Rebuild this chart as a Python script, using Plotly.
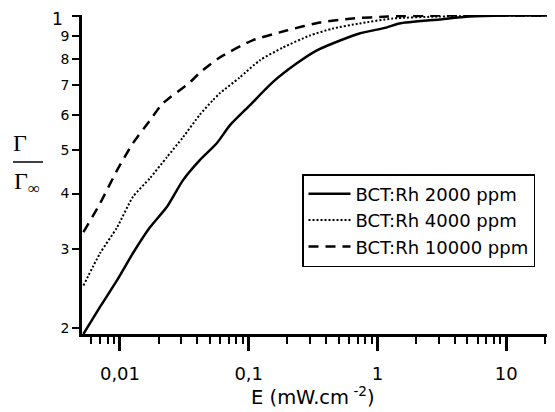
import plotly.graph_objects as go
import math

# Data
E_2000 = [0.0052, 0.0070, 0.0095, 0.0126, 0.0171, 0.0231, 0.0308, 0.0417, 0.0565, 0.0713,
          0.102, 0.153, 0.235, 0.336, 0.448, 0.724, 1.17, 1.48, 3.03, 5.16, 10, 22.7]
G_2000 = [0.194, 0.223, 0.256, 0.294, 0.336, 0.373, 0.428, 0.475, 0.518, 0.568,
          0.630, 0.709, 0.781, 0.835, 0.866, 0.912, 0.940, 0.960, 0.980, 0.995, 1.0, 1.0]

E_4000 = [0.0052, 0.0070, 0.0095, 0.0126, 0.0171, 0.0231, 0.0308, 0.0417, 0.0525, 0.0596,
          0.0851, 0.122, 0.184, 0.297, 0.448, 0.724, 1.31, 3.0, 10, 22.7]
G_4000 = [0.249, 0.294, 0.336, 0.393, 0.433, 0.482, 0.534, 0.600, 0.646, 0.670,
          0.727, 0.794, 0.848, 0.902, 0.935, 0.960, 0.985, 0.995, 1.0, 1.0]

E_10000 = [0.0052, 0.0070, 0.0095, 0.0126, 0.0171, 0.0215, 0.0349, 0.0417, 0.0596, 0.107,
           0.197, 0.356, 0.64, 1.2, 3.0, 10, 22.7]
G_10000 = [0.328, 0.380, 0.451, 0.518, 0.583, 0.636, 0.709, 0.745, 0.806, 0.880,
           0.926, 0.965, 0.985, 0.995, 1.0, 1.0, 1.0]

series_names = ["BCT:Rh 2000 ppm", "BCT:Rh 4000 ppm", "BCT:Rh 10000 ppm"]

x_major_vals = [0.01, 0.1, 1, 10]
x_major_text = ["0,01", "0,1", "1", "10"]
x_minor_vals = [m * 10 ** d for d in range(-3, 2) for m in range(2, 10)]

y_tick_vals = [0.2, 0.3, 0.4, 0.5, 0.6, 0.7, 0.8, 0.9, 1.0]
y_tick_text = ["2", "3", "4", "5", "6", "7", "8", "9", ""]
y_top_label = "1"   # the top tick label, drawn larger in the reference

SANS = "DejaVu Sans, Verdana, sans-serif"
SERIF = "Liberation Serif, Times New Roman, serif"

# The page body has an 8px margin; the figure is sized to fit the window.
OFF = 8
W, H = 555 - OFF, 412 - OFF
# plot area in page pixels: x 82..553, y 15..334
L = 82 - OFF
T = 15 - OFF
R = W - (553 - OFF)
B = H - (334 - OFF)
PW, PH = W - L - R, H - T - B


def px_x(p):
    return (p - OFF - L) / PW


def px_y(p):
    return (H - B - (p - OFF)) / PH


fig = go.Figure()
fig.add_trace(go.Scatter(x=E_2000, y=G_2000, mode="lines", name=series_names[0],
                         line=dict(color="black", width=2.5, shape="spline", smoothing=0.6)))
fig.add_trace(go.Scatter(x=E_4000, y=G_4000, mode="lines", name=series_names[1],
                         line=dict(color="black", width=2, dash="2px,2px",
                                   shape="spline", smoothing=0.6)))
fig.add_trace(go.Scatter(x=E_10000, y=G_10000, mode="lines", name=series_names[2],
                         line=dict(color="black", width=2.5, dash="10px,7px",
                                   shape="spline", smoothing=0.6)))

fig.update_layout(
    width=W, height=H,
    margin=dict(l=L, r=R, t=T, b=B, autoexpand=False),
    paper_bgcolor="white", plot_bgcolor="white",
    font=dict(family=SANS, color="black", size=16),
    showlegend=True,
    legend=dict(x=px_x(302), y=px_y(174), xanchor="left", yanchor="top",
                bordercolor="black", borderwidth=1.5, bgcolor="white",
                font=dict(family=SANS, size=18, color="black"),
                tracegroupgap=0, itemwidth=42),
    xaxis=dict(type="log", range=[math.log10(0.00507), math.log10(23.1)],
               automargin=False,
               showgrid=False, zeroline=False,
               showline=True, linecolor="black", linewidth=2.5,
               ticks="outside", ticklen=14, tickwidth=2.5, tickcolor="black",
               tickvals=x_major_vals, ticktext=x_major_text,
               tickfont=dict(family=SANS, size=18),
               ticklabelstandoff=8,
               minor=dict(ticks="outside", ticklen=7, tickwidth=2, tickcolor="black",
                          tickvals=x_minor_vals, showgrid=False)),
    yaxis=dict(type="log", range=[math.log10(0.194), math.log10(1.003)],
               automargin=False,
               showgrid=False, zeroline=False,
               showline=True, linecolor="black", linewidth=2.5,
               ticks="outside", ticklen=7, tickwidth=2, tickcolor="black",
               tickvals=y_tick_vals, ticktext=y_tick_text,
               tickfont=dict(family=SANS, size=14)),
)

# top "1" label of the y axis (larger than the other labels)
fig.add_annotation(text=y_top_label, xref="paper", yref="paper",
                   x=px_x(64), y=px_y(8), xanchor="right", yanchor="top",
                   showarrow=False, borderpad=0,
                   font=dict(family=SANS, size=17, color="black"))

# x-axis title
fig.add_annotation(text="E (mW.cm<sup> -2</sup>)", xref="paper", yref="paper",
                   x=px_x(313), y=px_y(396), xanchor="center", yanchor="middle",
                   showarrow=False, font=dict(family=SANS, size=19.5, color="black"))

# y-axis title as a fraction Γ / Γ∞
fig.add_annotation(text="Γ", xref="paper", yref="paper",
                   x=px_x(20), y=px_y(143), xanchor="center", yanchor="middle",
                   showarrow=False, font=dict(family=SERIF, size=24, color="black"))
fig.add_annotation(text="Γ<sub>∞</sub>", xref="paper", yref="paper",
                   x=px_x(27), y=px_y(183), xanchor="center", yanchor="middle",
                   showarrow=False, font=dict(family=SERIF, size=24, color="black"))
fig.add_shape(type="line", xref="paper", yref="paper",
              x0=px_x(13), x1=px_x(43), y0=px_y(162), y1=px_y(162),
              line=dict(color="black", width=1.5))

fig.write_html("out.html")
